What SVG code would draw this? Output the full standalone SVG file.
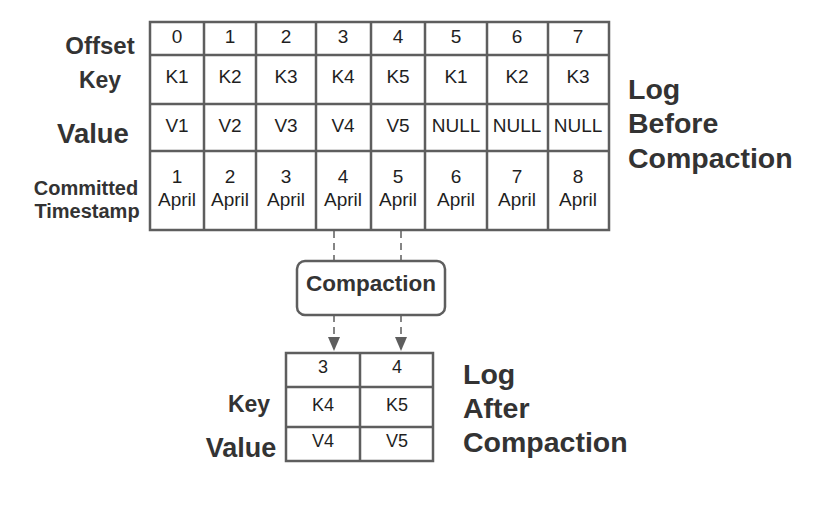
<svg xmlns="http://www.w3.org/2000/svg" width="834" height="510" viewBox="0 0 834 510">
<defs>
<style>
.grid{fill:#fff;stroke:#5e5e5e;stroke-width:2.5}
.ln{stroke:#5e5e5e;stroke-width:2.5;fill:none}
.c{font-family:"Liberation Sans",Arial,sans-serif;font-size:19px;fill:#1f1f1f;text-anchor:middle}
.cs{font-family:"Liberation Sans",Arial,sans-serif;font-size:18px;fill:#1f1f1f;text-anchor:middle}
.lb{font-family:"Liberation Sans",Arial,sans-serif;font-weight:bold;fill:#333;text-anchor:middle}
.tt{font-family:"Liberation Sans",Arial,sans-serif;font-weight:bold;font-size:28.5px;fill:#333}
.dash{stroke:#5e5e5e;stroke-width:1.5;stroke-dasharray:7,5;fill:none}
</style>
<marker id="ah" markerWidth="14" markerHeight="12" refX="14" refY="6" orient="auto" markerUnits="userSpaceOnUse" viewBox="0 0 14 12">
<path d="M0,0 L14,6 L0,12 Z" fill="#5e5e5e"/>
</marker>
</defs>
<rect width="834" height="510" fill="#fff"/>

<g id="labels-before">
<text class="lb" x="100" y="54" font-size="24">Offset</text>
<text class="lb" x="100" y="88" font-size="23">Key</text>
<text class="lb" x="93" y="143" font-size="27.5">Value</text>
<text class="lb" x="86" y="195" font-size="20">Committed</text>
<text class="lb" x="87" y="218" font-size="20">Timestamp</text>
</g>

<g id="log-before">
<rect class="grid" x="150" y="22" width="459" height="208"/>
<path class="ln" d="M150,55H609M150,104H609M150,151H609M204,22V230M256,22V230M316,22V230M371,22V230M425,22V230M487,22V230M548,22V230"/>
<g class="c">
<text x="177" y="43">0</text><text x="230" y="43">1</text><text x="286" y="43">2</text><text x="343" y="43">3</text><text x="398" y="43">4</text><text x="456" y="43">5</text><text x="517" y="43">6</text><text x="578" y="43">7</text>
<text x="177" y="83">K1</text><text x="230" y="83">K2</text><text x="286" y="83">K3</text><text x="343" y="83">K4</text><text x="398" y="83">K5</text><text x="456" y="83">K1</text><text x="517" y="83">K2</text><text x="578" y="83">K3</text>
<text x="177" y="132">V1</text><text x="230" y="132">V2</text><text x="286" y="132">V3</text><text x="343" y="132">V4</text><text x="398" y="132">V5</text><text x="456" y="132">NULL</text><text x="517" y="132">NULL</text><text x="578" y="132">NULL</text>
<text x="177" y="183">1</text><text x="230" y="183">2</text><text x="286" y="183">3</text><text x="343" y="183">4</text><text x="398" y="183">5</text><text x="456" y="183">6</text><text x="517" y="183">7</text><text x="578" y="183">8</text>
<text x="177" y="206">April</text><text x="230" y="206">April</text><text x="286" y="206">April</text><text x="343" y="206">April</text><text x="398" y="206">April</text><text x="456" y="206">April</text><text x="517" y="206">April</text><text x="578" y="206">April</text>
</g>
</g>

<g id="title-before">
<text class="tt" x="628" y="99">Log</text>
<text class="tt" x="628" y="133">Before</text>
<text class="tt" x="628" y="168">Compaction</text>
</g>

<g id="connectors">
<path class="dash" d="M334,231V261"/>
<path class="dash" d="M401,231V261"/>
<path class="dash" d="M334,315V351" marker-end="url(#ah)"/>
<path class="dash" d="M401,315V351" marker-end="url(#ah)"/>
</g>

<g id="compaction">
<rect x="297" y="261" width="148" height="54" rx="8" ry="8" fill="#fff" stroke="#5e5e5e" stroke-width="2.5"/>
<text class="lb" x="371" y="291" font-size="22.5">Compaction</text>
</g>

<g id="labels-after">
<text class="lb" x="249" y="412" font-size="23">Key</text>
<text class="lb" x="241" y="457" font-size="27">Value</text>
</g>

<g id="log-after">
<rect class="grid" x="286" y="353" width="147" height="108"/>
<path class="ln" d="M286,387H433M286,427H433M360,353V461"/>
<g class="cs">
<text x="323" y="373">3</text><text x="397" y="373">4</text>
<text x="323" y="411">K4</text><text x="397" y="411">K5</text>
<text x="323" y="447">V4</text><text x="397" y="447">V5</text>
</g>
</g>

<g id="title-after">
<text class="tt" x="463" y="384">Log</text>
<text class="tt" x="463" y="418">After</text>
<text class="tt" x="463" y="452">Compaction</text>
</g>
</svg>
